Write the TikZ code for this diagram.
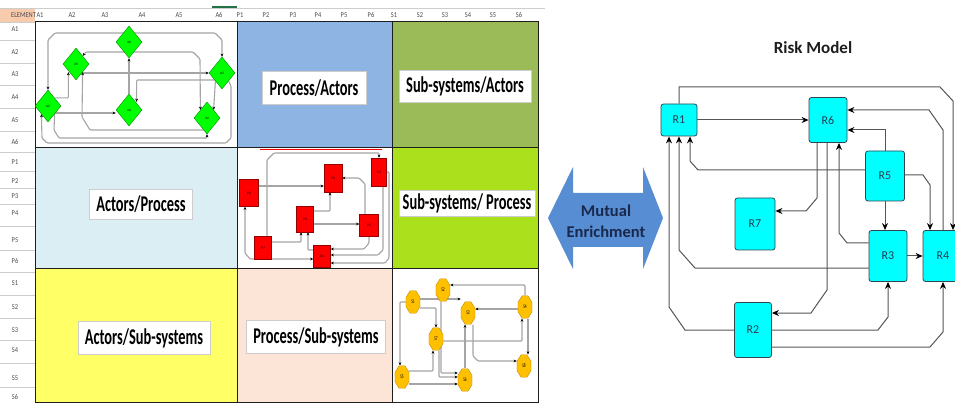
\documentclass[tikz,border=0pt]{standalone}
\usepackage{fontspec}
\setmainfont{Carlito}
\newfontfamily\cellfont[FakeStretch=0.64]{Carlito}
\newfontfamily\gridfont[FakeStretch=0.85]{Carlito}
\usepackage{tikz}
\usetikzlibrary{arrows,arrows.meta,calc,positioning,shapes,backgrounds}
\definecolor{my_black}{RGB}{30, 30, 30}
\definecolor{my_lightgrey}{RGB}{205, 205, 205}
\definecolor{my_orange}{RGB}{248, 203, 173}
\definecolor{my_tab}{RGB}{33, 115, 70}
\definecolor{my_blue}{RGB}{141, 180, 226}
\definecolor{my_olive}{RGB}{155, 187, 89}
\definecolor{my_ltblue}{RGB}{218, 238, 243}
\definecolor{my_lime}{RGB}{170, 224, 28}
\definecolor{my_yellow}{RGB}{255, 255, 102}
\definecolor{my_peach}{RGB}{252, 228, 214}
\definecolor{my_green}{RGB}{0, 255, 0}
\definecolor{my_darkgreen}{RGB}{0, 140, 0}
\definecolor{my_red}{RGB}{255, 0, 0}
\definecolor{my_darkred}{RGB}{150, 0, 0}
\definecolor{my_gold}{RGB}{255, 192, 0}
\definecolor{my_darkgold}{RGB}{190, 140, 0}
\definecolor{my_grey}{RGB}{165, 165, 165}
\definecolor{my_line}{RGB}{85, 85, 85}
\definecolor{my_cyan}{RGB}{0, 255, 255}
\definecolor{my_boxline}{RGB}{50, 70, 80}
\definecolor{my_rtext}{RGB}{40, 60, 80}
\definecolor{my_arrow}{RGB}{87, 141, 210}
\definecolor{my_navy}{RGB}{25, 40, 75}
\tikzset{
  minitip/.tip = {Stealth[black, length=3.2pt, width=2.8pt]},
  risktip/.tip = {Stealth[black, length=7pt, width=6pt]},
  grid_lab/.style = {inner sep=0pt, text=my_black!80, font=\gridfont\fontsize{7.5}{8}\selectfont},
  cell_lab/.style = {fill=white, draw=my_lightgrey, inner sep=2pt, font=\cellfont\bfseries\fontsize{22.5}{24}\selectfont},
  mini_n/.style = {inner sep=0pt, font=\fontsize{3.5}{4}\selectfont},
  act_n/.style = {mini_n, diamond, draw=my_darkgreen, fill=my_green, minimum width=26, minimum height=32},
  proc_n/.style = {mini_n, rectangle, draw=my_darkred, fill=my_red},
  sub_n/.style = {mini_n, regular polygon, regular polygon sides=8, minimum size=15.2, yscale=1.6,
    draw=my_darkgold, fill=my_gold},
  risk_n/.style = {rectangle, rounded corners=2.5pt, draw=my_boxline, fill=my_cyan, line width=0.8pt,
    inner sep=0pt, text=my_rtext, font=\fontsize{12}{12}\selectfont}
}

\begin{document}
\begin{tikzpicture}[x=1pt, y=-1pt,
    mini_e/.style={draw=my_grey, line width=1.1pt, rounded corners=1pt, -minitip},
    risk_e/.style={draw=my_line, line width=1pt, -risktip},
    cell_b/.style={draw=my_black, line width=1pt}]
  \useasboundingbox (0,0) rectangle (955,403);
  \clip (0,0) rectangle (955,403);
  \begin{scope}[on background layer]
    \fill[white] (0,0) rectangle (955,403);
  \end{scope}

  % spreadsheet headers
  \fill[my_orange] (0,8) rectangle (35,22);
  \draw[my_lightgrey] (0,8) -- (545,8);
  \draw[my_tab, line width=1.6pt] (212,7) -- (237,7);
  \node[grid_lab, anchor=west] (hdr) at (11,15) {ELEMENT};
  \foreach \lab/\xx in {A1/40,A2/72,A3/105,A4/142,A5/179,A6/219,P1/240,P2/266,P3/293,P4/318,P5/344,P6/371,S1/394,S2/420,S3/445,S4/468,S5/493,S6/519}
    \node[grid_lab] (col\lab) at (\xx,15) {\lab};
  \foreach \lab/\yy in {A1/29,A2/52,A3/74,A4/97,A5/120,A6/142,P1/162,P2/181,P3/196,P4/213,P5/240,P6/261,S1/283,S2/307,S3/330,S4/350,S5/378,S6/397}
    \node[grid_lab] (row\lab) at (15,\yy) {\lab};
  \foreach \yy in {22,40,63,85,108,131,152,171,188,204,226,250,272,295,318,340,363,387}
    \draw[my_lightgrey] (0,\yy) -- (35,\yy);

  % matrix cells
  \fill[my_blue] (237,22) rectangle (392,148);
  \fill[my_olive] (392,22) rectangle (538,148);
  \fill[my_ltblue] (35,148) rectangle (237,268);
  \fill[my_lime] (392,148) rectangle (538,268);
  \fill[my_yellow] (35,268) rectangle (237,403);
  \fill[my_peach] (237,268) rectangle (392,403);
  \draw[cell_b] (35,22) rectangle (538,402);
  \foreach \xx in {237,392}
    \draw[cell_b] (\xx,22) -- (\xx,402);
  \foreach \yy in {148,268}
    \draw[cell_b] (35,\yy) -- (538,\yy);
  \draw[my_red] (260,149.5) -- (382,149.5);

  \node[cell_lab, minimum width=104, minimum height=33] (pa) at (314,88) {Process/Actors};
  \node[cell_lab, minimum width=132, minimum height=32] (sa) at (465,86) {Sub-systems/Actors};
  \node[cell_lab, minimum width=103, minimum height=30] (ap) at (141,204) {Actors/Process};
  \node[cell_lab, minimum width=136, minimum height=26] (sp) at (467,203) {Sub-systems/ Process};
  \node[cell_lab, minimum width=132, minimum height=33] (as) at (144,338) {Actors/Sub-systems};
  \node[cell_lab, minimum width=139, minimum height=33] (ps) at (316,337) {Process/Sub-systems};

  % actors graph
  \node[act_n] (A6) at (129,42) {A6};
  \node[act_n] (A5) at (76,64) {A5};
  \node[act_n] (A3) at (222,73) {A3};
  \node[act_n] (A2) at (48,106) {A2};
  \node[act_n] (A4) at (129,110) {A4};
  \node[act_n] (A1) at (207,118) {A1};
  \begin{scope}[on background layer]
    \draw[mini_e] (A6 |- 0,33) -- (55,33) -- (48,40) -- (A2.north);
    \draw[mini_e] (A6 |- 0,33) -- (215,33) -- (222,40) -- (A3.north);
    \draw[mini_e, minitip-minitip] (A5.north east) -- (86,52) -- (193,52) -- (200,59) -- (A1.north west);
    \draw[mini_e] (A5 |- A3.west) -- (A3.west);
    \draw[mini_e] (A4.north) -- (A6.south);
    \draw[mini_e] (A3 |- 0,80) -| ([xshift=1]A4.north east);
    \draw[mini_e] (A3.south west) -- (A1.north east);
    \draw[mini_e] (A2 |- 0,113) -- (A4.west |- 0,113);
    \draw[mini_e] (A2.north east) -| ([xshift=-1]A5.south west);
    \draw[mini_e, minitip-] (A5.south east) -- (82,117) -- (90,130) -| (A1);
    \draw[mini_e] (A3.south east) -- (231,86) -- (231,138) -- (226,143) -- (47,143) -- (42,138) -- (A2.south west);
    \draw[mini_e] (A2.south east) -- (54,130) -- (59,138) -| (A1.south);
  \end{scope}

  % process graph
  \node[proc_n, minimum width=19, minimum height=27] (P3) at (249,193) {P3};
  \node[proc_n, minimum width=18, minimum height=28] (P4) at (333,178) {P4};
  \node[proc_n, minimum width=15, minimum height=28] (P1) at (379,172) {P1};
  \node[proc_n, minimum width=17, minimum height=26] (P6) at (305,219) {P6};
  \node[proc_n, minimum width=19, minimum height=22] (P5) at (369,225) {P5};
  \node[proc_n, minimum width=17, minimum height=23] (P7) at (263,248) {P7};
  \node[proc_n, minimum width=17, minimum height=22] (P2) at (322,256) {P2};
  \begin{scope}[on background layer]
    \draw[mini_e] (P3.east |- 0,186) -- (P4.west |- 0,186);
    \draw[mini_e] ([xshift=4]P7.north) -- (267,160) -- (274,153) -| (P1.north);
    \draw[mini_e] (P6.east |- 0,211) -| ([xshift=-3]P4.south);
    \draw[mini_e] (P6.east |- 0,224) -- (P5.west |- 0,224);
    \draw[mini_e] ([xshift=-4]P5.north) -- (365,184) -- (359,178) -- (P4.east);
    \draw[mini_e] (P7.east |- 0,242) -| ([xshift=-4]P6.south);
    \draw[mini_e, minitip-minitip] ([xshift=-4]P3.south) -- (245,253) -- (250,259) -- (P2.west |- 0,259);
    \draw[mini_e] ([yshift=6]P2.west) -| ([xshift=3]P6.south);
    \draw[mini_e] (P5.south) -- (369,243) -- (364,249) -- (P2.east |- 0,249);
    \draw[mini_e] ([xshift=4]P1.south) -- (383,250) -- (378,255) -- (P2.east |- 0,255);
    \draw[mini_e] (P1.east) -- (389,172) -- (389,258) -- (385,263) -- (P2.east |- 0,263);
  \end{scope}

  % sub-systems graph
  \node[sub_n] (S1) at (413,302) {S1};
  \node[sub_n] (S2) at (443,290) {S2};
  \node[sub_n] (S3) at (468,313) {S3};
  \node[sub_n] (S4) at (525,307) {S4};
  \node[sub_n] (S7) at (436,339) {S7};
  \node[sub_n] (S5) at (402,377) {S5};
  \node[sub_n] (S6) at (465,380) {S6};
  \node[sub_n] (S8) at (524,366) {S8};
  \begin{scope}[on background layer]
    \draw[mini_e] (S4.north) |- ([yshift=5]S2.east);
    \draw[mini_e] (S4.west |- 0,309) -- (S3.east |- 0,309);
    \draw[mini_e] (S1.east |- 0,299) -- (S3.west |- 0,299);
    \draw[mini_e] (S1.east |- 0,308) -| (S7.north);
    \draw[mini_e] (S1.west) -| ([xshift=-2]S5.north);
    \draw[mini_e] (S7.east |- 0,341) -| ([xshift=-3]S4.south);
    \draw[mini_e] (S6.north) -- (S6.north |- S3.south);
    \draw[mini_e] (S5.east |- 0,371) -| ([xshift=-3]S7.south);
    \draw[mini_e] (S5.east |- 0,384) -- (S6.west |- 0,384);
    \draw[mini_e] ([xshift=3]S7.south) |- ([yshift=3]S6.west);
    \draw[mini_e] ([xshift=5]S3.south) -- (473,356) -- (478,361) -- (S8.west |- 0,361);
    \draw[mini_e] ([xshift=3]S4.south) -- ([xshift=4]S8.north);
    \draw[mini_e] ([xshift=-2]S2.south) |- ([yshift=7]S6.west);
  \end{scope}

  % mutual enrichment
  \fill[my_arrow] (548,218) -- (573,167) -- (573,193) -- (643,193) -- (643,167) -- (663,218)
    -- (643,269) -- (643,247) -- (573,247) -- (573,269) -- cycle;
  \node[align=center, text=my_navy, font=\bfseries\fontsize{16.5}{21}\selectfont] (enrich) at (606,221) {Mutual\\Enrichment};

  % risk model
  \node[font=\bfseries\fontsize{17}{18}\selectfont, text=my_black] (title) at (813,48) {Risk Model};
  \node[risk_n, minimum width=36, minimum height=32] (R1) at (679,120) {R1};
  \node[risk_n, minimum width=38, minimum height=45] (R6) at (828,120) {R6};
  \node[risk_n, minimum width=39, minimum height=50] (R5) at (885,176) {R5};
  \node[risk_n, minimum width=40, minimum height=52] (R7) at (755,224) {R7};
  \node[risk_n, minimum width=38, minimum height=51] (R3) at (888,256) {R3};
  \node[risk_n, minimum width=40, minimum height=51] (R4) at (943,256) {R4};
  \node[risk_n, minimum width=37, minimum height=55] (R2) at (753,330) {R2};

  \draw[risk_e] (R1) -- (R6);
  \draw[risk_e] (R1.north) -- (R1.north |- 0,87) -- (940,87) -- (953,101) -- (R4.north -| 953,0);
  \draw[risk_e] (R4.north) -- (943,130) -- (929,110) -- (R6.east |- 0,110);
  \draw[risk_e] (R5.north) |- ([yshift=-10]R6.east);
  \draw[risk_e] ([yshift=6]R5.west) -- (698,170) -- (690,161) -- (R1.south -| 690,0);
  \draw[risk_e] (R5.east |- 0,175) -- (923,175) -- (930,185) -- (R4.north -| 930,0);
  \draw[risk_e] (R5.south) -- (R5.south |- R3.north);
  \draw[risk_e] (R3) -- (R4);
  \draw[risk_e] (R6.south -| 817,0) -- (817,198) -- (806,211) -- (R7.east |- 0,211);
  \draw[risk_e] (R6.south -| 827,0) -- (827,290) -- (811,313) -- (R2.east |- 0,313);
  \draw[risk_e] (R3.west |- 0,243) -- (847,243) -- (839,233) -- (R6.south -| 839,0);
  \draw[risk_e] (R3.west |- 0,268) -- (695,268) -- (R1.south |- 0,250) -- (R1.south);
  \draw[risk_e] (R2.west) -- (685,330) -- (669,307) -- (R1.south -| 669,0);
  \draw[risk_e] (R2.east) -- (878,330) -- (888,317) -- (R3.south);
  \draw[risk_e] (R2.east |- 0,347) -- (930,347) -- (943,332) -- (R4.south);
\end{tikzpicture}
\end{document}
